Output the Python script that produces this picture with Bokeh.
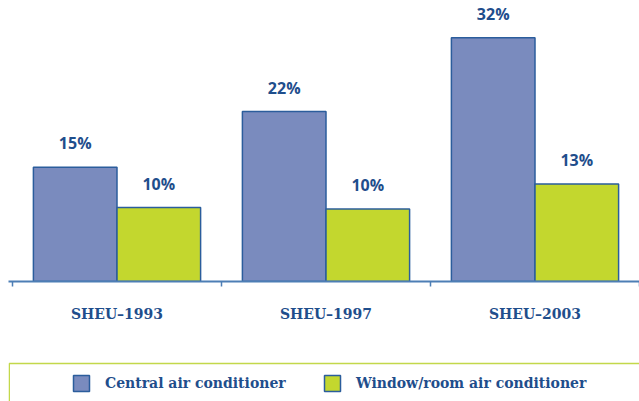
from bokeh.plotting import figure
from bokeh.models import (ColumnDataSource, Range1d, FixedTicker, Legend, LegendItem,
                          BoxAnnotation)
from bokeh.layouts import column
from bokeh.core.properties import value
from bokeh.embed import file_html
from bokeh.resources import INLINE

# ---- data ----
categories = ["SHEU\u20131993", "SHEU\u20131997", "SHEU\u20132003"]
central = [15.0, 22.3, 32.0]
window = [9.7, 9.5, 12.8]
series_names = ["Central air conditioner", "Window/room air conditioner"]

# ---- styles ----
BLUE = "#7a8bbe"
GREEN = "#c3d72e"
EDGE = "#2b5d9c"
TEXT = "#1f4e8c"
AXIS = "#4d7eb5"
LIME = "#c3d84a"
SANS = "Open Sans"
SERIF = "DejaVu Serif"

idx = list(range(len(categories)))
centers = [i + 0.5 for i in idx]
bar_w = 0.4

src_c = ColumnDataSource(dict(x=[c - bar_w / 2 for c in centers], y=central,
                              lab=[f"{round(v)}%" for v in central]))
src_w = ColumnDataSource(dict(x=[c + bar_w / 2 for c in centers], y=window,
                              lab=[f"{round(v)}%" for v in window]))

p = figure(width=639, height=341, output_backend="svg", toolbar_location=None,
           x_range=Range1d(-4 / 209, 627 / 209), y_range=Range1d(0, 281 / 7.62),
           min_border_left=8, min_border_right=0, min_border_top=0, min_border_bottom=60)
p.outline_line_color = None
p.grid.visible = False
p.yaxis.visible = False

p.vbar(x="x", top="y", width=bar_w, source=src_c,
       fill_color=BLUE, line_color=EDGE, line_width=1.5)
p.vbar(x="x", top="y", width=bar_w, source=src_w,
       fill_color=GREEN, line_color=EDGE, line_width=1.5)

for src in (src_c, src_w):
    p.text(x="x", y="y", text="lab", source=src, text_font=value(SANS),
           text_font_size="16px", text_font_style="bold", text_color=TEXT,
           text_align="center", text_baseline="alphabetic", y_offset=-24)

ax = p.xaxis[0]
ax.ticker = FixedTicker(ticks=centers, minor_ticks=[0] + [i + 1 for i in idx])
ax.major_label_overrides = {c: cat for c, cat in zip(centers, categories)}
ax.major_tick_out = 0
ax.major_tick_in = 0
ax.minor_tick_out = 5
ax.minor_tick_in = 0
ax.minor_tick_line_color = AXIS
ax.minor_tick_line_width = 1.5
ax.axis_line_color = AXIS
ax.axis_line_width = 2
ax.major_label_standoff = 19
ax.major_label_text_font = SERIF
ax.major_label_text_font_size = "14px"
ax.major_label_text_font_style = "bold"
ax.major_label_text_color = TEXT

# ---- legend panel ----
q = figure(width=639, height=60, output_backend="svg", toolbar_location=None,
           x_range=Range1d(0, 631), y_range=Range1d(0, 60),
           x_axis_location=None, y_axis_location=None, min_border=0, min_border_left=8)
q.outline_line_color = None
q.grid.visible = False
q.add_layout(BoxAnnotation(left=0.75, right=800, top=38, bottom=-30, fill_alpha=0,
                           line_color=LIME, line_alpha=1.0, line_width=1.5))

nan = float("nan")
r1 = q.quad(left=[nan], right=[nan], top=[nan], bottom=[nan],
            fill_color=BLUE, line_color=EDGE, line_width=1.5)
r2 = q.quad(left=[nan], right=[nan], top=[nan], bottom=[nan],
            fill_color=GREEN, line_color=EDGE, line_width=1.5)

for r, name, xloc in ((r1, series_names[0], 63), (r2, series_names[1], 314)):
    lg = Legend(items=[LegendItem(label=name, renderers=[r])], location=(xloc, 8),
                orientation="horizontal", glyph_width=20, glyph_height=20,
                label_standoff=14, padding=0, margin=0, spacing=0,
                border_line_alpha=0, background_fill_alpha=0,
                label_text_font=SERIF, label_text_font_size="14px",
                label_text_font_style="bold", label_text_color=TEXT)
    q.add_layout(lg, "center")

layout = column(p, q, spacing=0)
open("out.html", "w").write(file_html(layout, INLINE))
